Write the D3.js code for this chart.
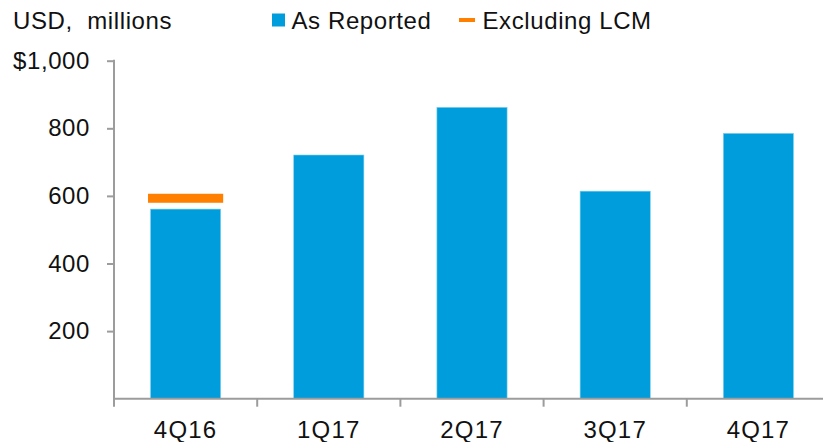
<!DOCTYPE html>
<html>
<head>
<meta charset="utf-8">
<script src="https://cdn.jsdelivr.net/npm/d3@7"></script>
<style>
  body { margin: 0; background: #fff; }
  text { font-family: "Liberation Sans", Arial, sans-serif; fill: #111; }
</style>
</head>
<body>
<div class="canva"></div>
<script>
// chart data
const quarters = ['4Q16', '1Q17', '2Q17', '3Q17', '4Q17'];
const asReported = [561, 721, 862, 614, 785];
const excludingLCM = [593, null, null, null, null];
const yTicks = [0, 200, 400, 600, 800, 1000];

const blue = '#009ddc';
const orange = '#ff7f00';
const grey = '#9c9c9c';

const svg = d3.select('.canva').append('svg')
    .attr('width', 823)
    .attr('height', 442);

const x = d3.scaleBand()
    .domain(quarters)
    .range([114, 830])
    .paddingInner(0.51)
    .paddingOuter(0.255);

const y = d3.scaleLinear()
    .domain([0, 1000])
    .range([398.7, 60.7]);

// bars
svg.selectAll('rect.bar')
    .data(asReported)
    .enter().append('rect')
    .attr('class', 'bar')
    .attr('x', (d, i) => x(quarters[i]))
    .attr('width', x.bandwidth())
    .attr('y', d => y(d))
    .attr('height', d => y(0) - y(d))
    .attr('fill', blue)
    .attr('stroke', '#7fd0f0')
    .attr('stroke-width', 0.6);

// excluding LCM marker
svg.selectAll('rect.lcm')
    .data(excludingLCM.map((v, i) => ({ v: v, q: quarters[i] })).filter(d => d.v != null))
    .enter().append('rect')
    .attr('class', 'lcm')
    .attr('x', d => x(d.q) - 2.5)
    .attr('width', x.bandwidth() + 5)
    .attr('y', d => y(d.v) - 4.5)
    .attr('height', 9)
    .attr('fill', orange);

// y axis
const yAxis = svg.append('g')
    .attr('transform', 'translate(114,0)')
    .call(d3.axisLeft(y).tickValues(yTicks.filter(t => t > 0))
        .tickSize(7).tickPadding(17)
        .tickFormat(d => d === 1000 ? '$1,000' : d));
yAxis.select('.domain').remove();
yAxis.selectAll('line').attr('stroke', grey).attr('stroke-width', 2);
yAxis.selectAll('text')
    .style('font-size', '24px')
    .style('letter-spacing', '0.6px')
    .attr('fill', '#111');

svg.append('line')
    .attr('x1', 114).attr('x2', 114)
    .attr('y1', y(1000) - 1).attr('y2', y(0))
    .attr('stroke', grey).attr('stroke-width', 2);

// x axis
svg.append('line')
    .attr('x1', 113).attr('x2', 823)
    .attr('y1', y(0)).attr('y2', y(0))
    .attr('stroke', grey).attr('stroke-width', 2);

const step = x.step();
svg.selectAll('line.xtick')
    .data(quarters)
    .enter().append('line')
    .attr('class', 'xtick')
    .attr('x1', (d, i) => x(d) - x.paddingInner() * step / 2)
    .attr('x2', (d, i) => x(d) - x.paddingInner() * step / 2)
    .attr('y1', y(0)).attr('y2', y(0) + 8)
    .attr('stroke', grey).attr('stroke-width', 2);

svg.selectAll('text.xlab')
    .data(quarters)
    .enter().append('text')
    .attr('class', 'xlab')
    .attr('x', d => x(d) + x.bandwidth() / 2)
    .attr('y', 438)
    .attr('text-anchor', 'middle')
    .style('font-size', '24px')
    .style('letter-spacing', '1.2px')
    .text(d => d);

// unit label
svg.append('text')
    .attr('x', 13).attr('y', 28.5)
    .style('font-size', '24px')
    .style('letter-spacing', '0.6px')
    .text('USD,\u00a0 millions');

// legend
svg.append('rect')
    .attr('x', 272).attr('y', 13.5)
    .attr('width', 13).attr('height', 13)
    .attr('fill', blue);
svg.append('text')
    .attr('x', 291.5).attr('y', 28.5)
    .style('font-size', '24px')
    .style('letter-spacing', '0.6px')
    .text('As Reported');
svg.append('rect')
    .attr('x', 459).attr('y', 18)
    .attr('width', 16).attr('height', 4)
    .attr('fill', orange);
svg.append('text')
    .attr('x', 482.5).attr('y', 28.5)
    .style('font-size', '24px')
    .style('letter-spacing', '0.6px')
    .text('Excluding LCM');
</script>
</body>
</html>
